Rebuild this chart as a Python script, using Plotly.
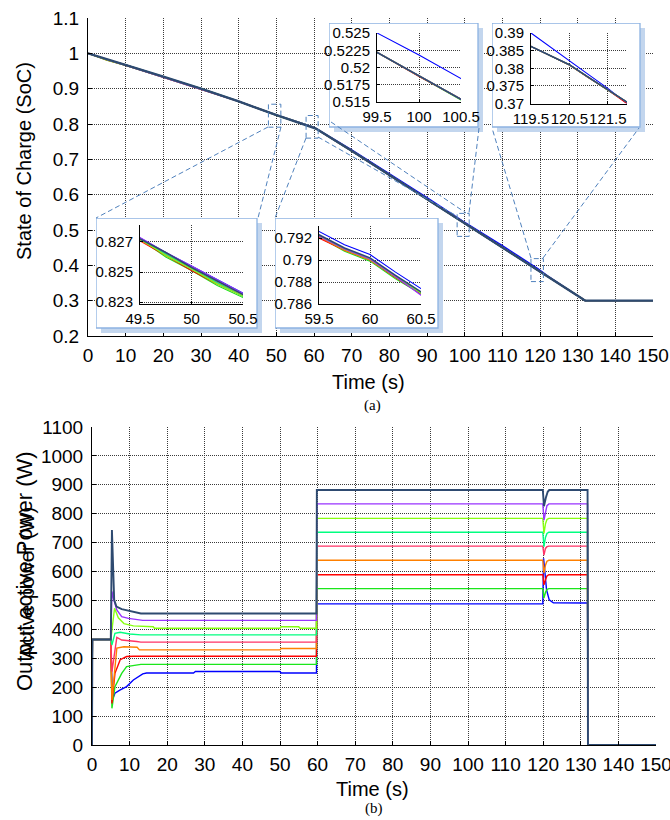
import plotly.graph_objects as go

W, H = 670, 820


def X(px):
    return px / W


def Y(py):
    return 1 - py / H


# ---------------- data ----------------
series_names = ["blue", "green", "red", "orange", "pink", "springgreen", "yellowgreen", "purple", "navy"]
series_colors = ["#0000FF", "#1BE61B", "#FF0000", "#FF8000", "#FF3366", "#00FF80", "#88FF11", "#9933FF", "#2E4A70"]

# State of charge (top panel)
soc_t = [0, 5, 10, 20, 30, 40, 49.5, 49.75, 50, 50.25, 50.5, 59.5, 59.75, 60, 60.25, 60.5,
         70, 80, 90, 99.5, 100, 100.5, 110, 119.5, 120, 120.5, 121, 121.5, 122, 130, 132, 150]
soc_navy = [1.000, 0.984, 0.968, 0.934, 0.900, 0.864, 0.8272, 0.8263, 0.8253, 0.8244, 0.8235,
            0.7923, 0.7911, 0.7902, 0.7886, 0.7871, 0.724, 0.656, 0.588, 0.5222, 0.5188, 0.5154,
            0.452, 0.3862, 0.3836, 0.3810, 0.3774, 0.3738, 0.3700, 0.314, 0.300, 0.300]
soc_blue = [1.000, 0.982, 0.967, 0.934, 0.900, 0.864, 0.8273, 0.8263, 0.8254, 0.8245, 0.8236,
            0.7926, 0.7914, 0.7905, 0.7889, 0.7874, 0.7265, 0.6595, 0.592, 0.5250, 0.5218, 0.5184,
            0.456, 0.3900, 0.3860, 0.3821, 0.3782, 0.3743, 0.3700, 0.314, 0.300, 0.300]
soc_green = [1.000, 0.981, 0.966, 0.933, 0.900, 0.864, 0.8272, 0.8260, 0.8251, 0.8241, 0.8233,
             0.7921, 0.7908, 0.7899, 0.7883, 0.7869, 0.724, 0.656, 0.588, 0.5222, 0.5187, 0.5153,
             0.452, 0.3862, 0.3835, 0.3809, 0.3773, 0.3737, 0.3700, 0.314, 0.300, 0.300]
soc_red = [1.000, 0.982, 0.967, 0.933, 0.900, 0.864, 0.8271, 0.8261, 0.8251, 0.8242, 0.8234,
           0.7920, 0.7909, 0.7900, 0.7884, 0.7869, 0.724, 0.656, 0.588, 0.5222, 0.5187, 0.5154,
           0.452, 0.3862, 0.3835, 0.3809, 0.3773, 0.3738, 0.3700, 0.314, 0.300, 0.300]
soc_orange = [1.000, 0.981, 0.966, 0.934, 0.900, 0.864, 0.8271, 0.8262, 0.8252, 0.8243, 0.8234,
              0.7921, 0.7909, 0.7900, 0.7885, 0.7870, 0.724, 0.656, 0.588, 0.5222, 0.5188, 0.5154,
              0.452, 0.3862, 0.3836, 0.3809, 0.3774, 0.3738, 0.3700, 0.314, 0.300, 0.300]
soc_pink = [1.000, 0.983, 0.967, 0.934, 0.900, 0.864, 0.8272, 0.8262, 0.8252, 0.8243, 0.8235,
            0.7921, 0.7910, 0.7901, 0.7885, 0.7870, 0.724, 0.656, 0.588, 0.5222, 0.5188, 0.5154,
            0.452, 0.3862, 0.3836, 0.3810, 0.3774, 0.3738, 0.3700, 0.314, 0.300, 0.300]
soc_springgreen = [1.000, 0.982, 0.967, 0.934, 0.900, 0.864, 0.8272, 0.8262, 0.8252, 0.8243, 0.8234,
                   0.7922, 0.7910, 0.7901, 0.7885, 0.7870, 0.724, 0.656, 0.588, 0.5222, 0.5188, 0.5154,
                   0.452, 0.3862, 0.3836, 0.3810, 0.3774, 0.3738, 0.3700, 0.314, 0.300, 0.300]
soc_yellowgreen = [1.000, 0.983, 0.967, 0.934, 0.900, 0.864, 0.8272, 0.8261, 0.8252, 0.8242, 0.8234,
                   0.7922, 0.7910, 0.7901, 0.7885, 0.7870, 0.724, 0.656, 0.588, 0.5222, 0.5188, 0.5154,
                   0.452, 0.3862, 0.3836, 0.3810, 0.3774, 0.3738, 0.3700, 0.314, 0.300, 0.300]
soc_purple = [1.000, 0.983, 0.967, 0.934, 0.900, 0.864, 0.8273, 0.8263, 0.8254, 0.8245, 0.8236,
              0.7922, 0.7910, 0.7901, 0.7885, 0.7870, 0.724, 0.656, 0.588, 0.5222, 0.5188, 0.5154,
              0.452, 0.3862, 0.3836, 0.3810, 0.3774, 0.3738, 0.3700, 0.314, 0.300, 0.300]
soc_series = [soc_blue, soc_green, soc_red, soc_orange, soc_pink, soc_springgreen,
              soc_yellowgreen, soc_purple, soc_navy]

# Output active power (bottom panel)
p_blue_t = [0, 0.1, 5.0, 5.4, 6.1, 7.4, 9.2, 11, 13.5, 14.5, 27.0, 27.5, 50.0, 50.3, 59.7, 59.8,
            119.9, 120.1, 120.9, 121.6, 122.7, 131.8, 131.9, 150]
p_blue = [0, 365, 365, 156, 179, 190, 202, 225, 246, 249, 249, 254, 254, 249, 249, 488,
          488, 646, 536, 502, 492, 491, 0, 0]
p_green_t = [0, 0.1, 5.0, 5.3, 6.1, 7.9, 9.2, 11, 13, 59.7, 59.8,
             119.9, 120.2, 120.6, 121.0, 121.5, 131.8, 131.9, 150]
p_green = [0, 365, 365, 127, 202, 248, 271, 276, 279, 279, 541,
           541, 508, 528, 538, 541, 541, 0, 0]
p_red_t = [0, 0.1, 5.0, 5.3, 6.1, 7.5, 9.2, 11, 59.7, 59.8,
           119.9, 120.2, 120.6, 121.0, 121.5, 131.8, 131.9, 150]
p_red = [0, 365, 365, 144, 248, 295, 306, 307, 307, 589,
         589, 554, 572, 585, 589, 589, 0, 0]
p_orange_t = [0, 0.1, 5.0, 5.3, 6.6, 8.5, 12.0, 12.6, 50.0, 50.3, 59.7, 59.8,
              119.9, 120.2, 120.6, 121.0, 121.5, 131.8, 131.9, 150]
p_orange = [0, 365, 365, 156, 335, 340, 338, 329, 329, 334, 334, 639,
            639, 594, 622, 636, 639, 639, 0, 0]
p_pink_t = [0, 0.1, 5.0, 5.3, 6.6, 7.9, 11.9, 13, 59.7, 59.8,
            119.9, 120.2, 120.6, 121.0, 121.5, 131.8, 131.9, 150]
p_pink = [0, 365, 365, 254, 372, 363, 358, 356, 356, 688,
          688, 657, 680, 686, 688, 688, 0, 0]
p_springgreen_t = [0, 0.1, 5.0, 5.3, 6.1, 7.5, 10, 13, 59.7, 59.8,
                   119.9, 120.2, 120.6, 121.0, 121.5, 131.8, 131.9, 150]
p_springgreen = [0, 365, 365, 346, 386, 390, 384, 381, 381, 736,
                 736, 686, 718, 732, 736, 736, 0, 0]
p_yellowgreen_t = [0, 0.1, 5.0, 5.3, 6.0, 7.0, 8.5, 11.0, 16.3, 16.6, 50.0, 50.3, 55.0, 55.3, 59.7, 59.8,
                   119.9, 120.2, 120.6, 121.0, 121.5, 131.8, 131.9, 150]
p_yellowgreen = [0, 365, 365, 395, 473, 440, 420, 412, 409, 404, 404, 409, 409, 404, 404, 784,
                 784, 732, 765, 780, 784, 784, 0, 0]
p_purple_t = [0, 0.1, 5.0, 5.3, 5.8, 6.6, 7.9, 9.7, 13.5, 59.7, 59.8,
              119.9, 120.2, 120.6, 121.0, 121.5, 131.8, 131.9, 150]
p_purple = [0, 365, 365, 531, 502, 467, 444, 438, 431, 431, 834,
            834, 778, 810, 828, 834, 834, 0, 0]
p_navy_t = [0, 0.1, 5.0, 5.3, 5.9, 6.5, 7.9, 9.7, 11.9, 13.0, 59.7, 59.8,
            119.9, 120.2, 120.7, 121.2, 121.6, 131.8, 131.9, 150]
p_navy = [0, 365, 365, 744, 502, 479, 470, 465, 458, 455, 455, 882,
          882, 826, 855, 876, 882, 882, 0, 0]
power_series = [(p_blue_t, p_blue), (p_green_t, p_green), (p_red_t, p_red), (p_orange_t, p_orange),
                (p_pink_t, p_pink), (p_springgreen_t, p_springgreen), (p_yellowgreen_t, p_yellowgreen),
                (p_purple_t, p_purple), (p_navy_t, p_navy)]

# tick labels
time_ticks = [0, 10, 20, 30, 40, 50, 60, 70, 80, 90, 100, 110, 120, 130, 140, 150]
soc_ticks = [0.2, 0.3, 0.4, 0.5, 0.6, 0.7, 0.8, 0.9, 1.0, 1.1]
soc_ticktext = ["0.2", "0.3", "0.4", "0.5", "0.6", "0.7", "0.8", "0.9", "1", "1.1"]
power_ticks = [0, 100, 200, 300, 400, 500, 600, 700, 800, 900, 1000, 1100]

inset1_xticks = [49.5, 50, 50.5]
inset1_yticks = [0.823, 0.825, 0.827]
inset2_xticks = [59.5, 60, 60.5]
inset2_yticks = [0.786, 0.788, 0.79, 0.792]
inset3_xticks = [99.5, 100, 100.5]
inset3_yticks = [0.515, 0.5175, 0.52, 0.5225, 0.525]
inset4_xticks = [119.5, 120.5, 121.5]
inset4_yticks = [0.37, 0.375, 0.38, 0.385, 0.39]

# ---------------- figure ----------------
FONT = "Liberation Sans"
GRID = "#3a3a3a"
fig = go.Figure()


def axkey(kind, n):
    return f"{kind}axis" if n == 1 else f"{kind}axis{n}"


def aid(kind, n):
    return kind if n == 1 else f"{kind}{n}"


def base_axis(rng, ticks, ticktext, size, ticklen, standoff):
    eps = (rng[1] - rng[0]) * 1e-6
    return dict(range=[rng[0] - eps, rng[1] + eps], tickmode="array", tickvals=ticks,
                ticktext=ticktext if ticktext else [f"{v:g}" for v in ticks],
                showgrid=True, gridcolor=GRID, griddash="1px,1px", gridwidth=1,
                zeroline=False, showline=True, linecolor="black", linewidth=1,
                ticks="inside", ticklen=ticklen, tickcolor="black", tickwidth=1,
                tickfont=dict(family=FONT, size=size, color="black"), tickangle=0,
                ticklabelstandoff=standoff, ticklabeloverflow="allow",
                fixedrange=True, automargin=False)


layout_axes = {}
overlay_id = [11]


def make_plot(n, xpx, ypx, xr, yr, xt, yt, ytext=None, size=19, ticklen=4, xs=2, ys=4):
    xa = base_axis(xr, xt, None, size, ticklen, xs)
    xa.update(domain=[X(xpx[0]), X(xpx[1])], anchor=aid("y", n))
    ya = base_axis(yr, yt, ytext, size, ticklen, ys)
    ya.update(domain=[Y(ypx[1]), Y(ypx[0])], anchor=aid("x", n))
    layout_axes[axkey("x", n)] = xa
    layout_axes[axkey("y", n)] = ya
    # mirrored ticks on top and right (no axis line, as in the original)
    m = overlay_id[0]
    overlay_id[0] += 1
    eps_x = (xr[1] - xr[0]) * 1e-6
    eps_y = (yr[1] - yr[0]) * 1e-6
    layout_axes[axkey("x", m)] = dict(overlaying=aid("x", n), anchor=aid("y", n), side="top",
                                      range=[xr[0] - eps_x, xr[1] + eps_x], tickmode="array",
                                      tickvals=xt, showticklabels=False, showgrid=False,
                                      zeroline=False, showline=False, ticks="inside",
                                      ticklen=ticklen, tickcolor="black", fixedrange=True,
                                      automargin=False)
    layout_axes[axkey("y", m)] = dict(overlaying=aid("y", n), anchor=aid("x", n), side="right",
                                      range=[yr[0] - eps_y, yr[1] + eps_y], tickmode="array",
                                      tickvals=yt, showticklabels=False, showgrid=False,
                                      zeroline=False, showline=False, ticks="inside",
                                      ticklen=ticklen, tickcolor="black", fixedrange=True,
                                      automargin=False)


def make_box(n, bx, by):
    # white inset panel with a light-blue drop shadow, drawn in its own subplot (pixel units)
    x0, x1 = bx
    y0, y1 = by
    layout_axes[axkey("x", n)] = dict(domain=[X(x0), X(x1 + 6)], range=[x0, x1 + 6], visible=False,
                                      anchor=aid("y", n), fixedrange=True, automargin=False)
    layout_axes[axkey("y", n)] = dict(domain=[Y(y1 + 6), Y(y0)], range=[y1 + 6, y0], visible=False,
                                      anchor=aid("x", n), fixedrange=True, automargin=False)
    fig.add_trace(go.Scatter(x=[x0 + 5, x1 + 5, x1 + 5, x0 + 5, x0 + 5],
                             y=[y0 + 5, y0 + 5, y1 + 5, y1 + 5, y0 + 5],
                             fill="toself", fillcolor="#C3D6EE", line=dict(width=0), mode="lines",
                             hoverinfo="skip", xaxis=aid("x", n), yaxis=aid("y", n)))
    fig.add_trace(go.Scatter(x=[x0, x1, x1, x0, x0], y=[y0, y0, y1, y1, y0],
                             fill="toself", fillcolor="white", line=dict(width=1.3, color="#8DB3E2"),
                             mode="lines", hoverinfo="skip", xaxis=aid("x", n), yaxis=aid("y", n)))


def add_soc(n, width, navy_width):
    for name, color, ys in zip(series_names, series_colors, soc_series):
        fig.add_trace(go.Scatter(x=soc_t, y=ys, mode="lines", name=name,
                                 line=dict(color=color, width=navy_width if name == "navy" else width),
                                 hoverinfo="skip", xaxis=aid("x", n), yaxis=aid("y", n)))


# top main panel
make_plot(1, (88, 653), (18, 336), (0, 150), (0.2, 1.1), time_ticks, soc_ticks, soc_ticktext)
add_soc(1, 1.4, 2.4)

# bottom main panel
make_plot(2, (92, 656), (427, 745), (0, 150), (0, 1100), time_ticks, power_ticks)
for name, color, (tt, pp) in zip(series_names, series_colors, power_series):
    fig.add_trace(go.Scatter(x=tt, y=pp, mode="lines", name=name,
                             line=dict(color=color, width=1.9 if name == "navy" else 1.4),
                             hoverinfo="skip", xaxis="x2", yaxis="y2"))

# insets
insets = [
    (3, (96, 257), (218, 328), (140, 243), (225, 304), (49.5, 50.5), (0.82287, 0.82813), inset1_xticks, inset1_yticks),
    (5, (275, 438), (218, 328), (319, 421), (226, 304), (59.5, 60.5), (0.786, 0.7931), inset2_xticks, inset2_yticks),
    (7, (329, 478), (23, 127), (377, 461), (33, 102), (99.5, 100.5), (0.515, 0.525), inset3_xticks, inset3_yticks),
    (9, (492, 640), (23, 127), (531, 627), (33, 103.5), (119.5, 122.0), (0.37, 0.39), inset4_xticks, inset4_yticks),
]
for nb, bx, by, axp, ayp, xr, yr, xt, yt in insets:
    make_box(nb, bx, by)
    make_plot(nb + 1, axp, ayp, xr, yr, xt, yt, size=15, ticklen=3, xs=1, ys=3)
    add_soc(nb + 1, 1.1, 1.5)

# zoom rectangles and connectors
DASH = "#4F81BD"
DASHSTYLE = "5px,3px"
shapes = []
zoom_rects = [(47.9, 0.791, 51.2, 0.856), (57.9, 0.760, 61.1, 0.824),
              (98.0, 0.482, 101.2, 0.547), (117.6, 0.354, 120.9, 0.419)]
for x0, y0, x1, y1 in zoom_rects:
    shapes.append(dict(type="rect", xref="x", yref="y", x0=x0, y0=y0, x1=x1, y1=y1,
                       line=dict(color=DASH, width=1, dash=DASHSTYLE), layer="above"))
connectors = [((268, 127), (96, 218)), ((281, 127), (258, 218)), ((306, 138), (275, 218)),
              ((318, 137), (457, 216)), ((331, 122), (466, 213)), ((479, 128), (469, 213)),
              ((531, 258), (492, 128)), ((543, 258), (639, 128))]
for (ax0, ay0), (ax1, ay1) in connectors:
    shapes.append(dict(type="line", xref="paper", yref="paper", x0=X(ax0), y0=Y(ay0), x1=X(ax1), y1=Y(ay1),
                       line=dict(color=DASH, width=1, dash=DASHSTYLE), layer="above"))

annotations = [
    dict(text="State of Charge (SoC)", x=X(24), y=Y(161), textangle=-90, size=20, family=FONT),
    dict(text="Time (s)", x=X(368), y=Y(382), textangle=0, size=20, family=FONT),
    dict(text="(a)", x=X(372), y=Y(405), textangle=0, size=15, family="Liberation Serif"),
    dict(text="Output active Power (W)", x=X(24), y=Y(571), textangle=-90, size=22, family=FONT),
    dict(text="Active power (W)", x=X(27), y=Y(583), textangle=-90, size=20, family=FONT),
    dict(text="Time (s)", x=X(372), y=Y(789), textangle=0, size=20, family=FONT),
    dict(text="(b)", x=X(374), y=Y(808), textangle=0, size=15, family="Liberation Serif"),
]
ann = [dict(text=a["text"], x=a["x"], y=a["y"], xref="paper", yref="paper", showarrow=False,
            textangle=a["textangle"], xanchor="center", yanchor="middle",
            font=dict(family=a["family"], size=a["size"], color="black")) for a in annotations]

fig.update_layout(width=W, height=H, autosize=False,
                  margin=dict(l=0, r=0, t=0, b=0, pad=0, autoexpand=False),
                  paper_bgcolor="white", plot_bgcolor="rgba(0,0,0,0)", showlegend=False,
                  hovermode=False, shapes=shapes, annotations=ann, **layout_axes)

fig.write_html("out.html", config={"displayModeBar": False},
               post_script="document.body.style.margin='0px';")
